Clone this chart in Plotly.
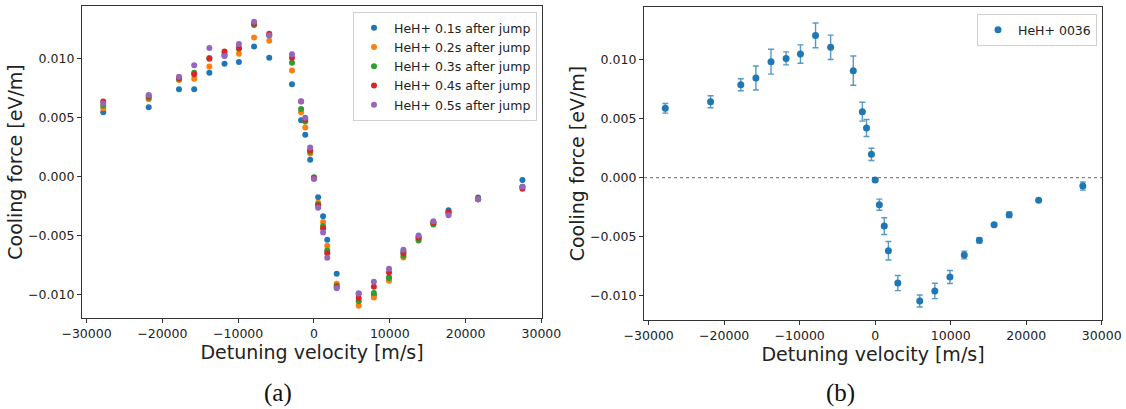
import plotly.graph_objects as go

# Detuning velocities [m/s]
velocity = [-27800, -21800, -17800, -15800, -13800, -11800, -9900, -7900, -5900,
            -2900, -1700, -1150, -500, 0, 550, 1200, 1750, 3000, 5900, 7900,
            9900, 11800, 13800, 15750, 17750, 21650, 27500]

# (a) cooling force [eV/m] at different times after jump
force_01s = [0.00546, 0.00589, 0.00741, 0.00741, 0.00882, 0.00958, 0.00972, 0.01104, 0.01008,
             0.00783, 0.00479, 0.00355, 0.00144, -0.00010, -0.00175, -0.00335, -0.00535, -0.00823,
             -0.00990, -0.01003, -0.00854, -0.00634, -0.00510, -0.00386, -0.00285, -0.00177, -0.00028]
force_02s = [0.00580, 0.00656, 0.00820, 0.00831, 0.00935, 0.01030, 0.01042, 0.01180, 0.01152,
             0.00901, 0.00546, 0.00417, 0.00197, -0.00015, -0.00220, -0.00383, -0.00586, -0.00907,
             -0.01093, -0.01023, -0.00882, -0.00684, -0.00530, -0.00400, -0.00310, -0.00190, -0.00087]
force_03s = [0.00603, 0.00670, 0.00828, 0.00882, 0.01006, 0.01040, 0.01085, 0.01285, 0.01200,
             0.00966, 0.00575, 0.00468, 0.00211, -0.00005, -0.00234, -0.00417, -0.00625, -0.00921,
             -0.01056, -0.00986, -0.00859, -0.00670, -0.00541, -0.00406, -0.00304, -0.00190, -0.00085]
force_04s = [0.00637, 0.00685, 0.00837, 0.00868, 0.01000, 0.01062, 0.01090, 0.01296, 0.01211,
             0.01008, 0.00637, 0.00485, 0.00225, -0.00010, -0.00245, -0.00439, -0.00648, -0.00935,
             -0.01028, -0.00932, -0.00811, -0.00648, -0.00518, -0.00390, -0.00301, -0.00192, -0.00101]
force_05s = [0.00620, 0.00693, 0.00848, 0.00944, 0.01090, 0.01023, 0.01124, 0.01313, 0.01197,
             0.01037, 0.00640, 0.00499, 0.00248, -0.00020, -0.00262, -0.00473, -0.00687, -0.00946,
             -0.00989, -0.00890, -0.00780, -0.00620, -0.00499, -0.00377, -0.00327, -0.00190, -0.00085]

series_names = ["HeH+ 0.1s after jump", "HeH+ 0.2s after jump", "HeH+ 0.3s after jump",
                "HeH+ 0.4s after jump", "HeH+ 0.5s after jump"]
series_values = [force_01s, force_02s, force_03s, force_04s, force_05s]
series_colors = ["#1f77b4", "#ff7f0e", "#2ca02c", "#d62728", "#9467bd"]

# (b) HeH+ 0036 with error bars
force_0036 = [0.00588, 0.00644, 0.00788, 0.00845, 0.00983, 0.01011, 0.01048, 0.01206, 0.01105,
              0.00907, 0.00559, 0.00421, 0.00198, -0.00020, -0.00229, -0.00410, -0.00619, -0.00893,
              -0.01045, -0.00960, -0.00842, -0.00655, -0.00531, -0.00398, -0.00314, -0.00192, -0.00071]
error_0036 = [0.00041, 0.00051, 0.00051, 0.00102, 0.00105, 0.00055, 0.00078, 0.00105, 0.00103,
              0.00124, 0.00080, 0.00072, 0.00052, 0.00008, 0.00047, 0.00071, 0.00078, 0.00064,
              0.00051, 0.00065, 0.00055, 0.00033, 0.00023, 0.00010, 0.00023, 0.00008, 0.00034]

x_ticks = [-30000, -20000, -10000, 0, 10000, 20000, 30000]
y_ticks = [-0.010, -0.005, 0.000, 0.005, 0.010]

W, H = 1126, 409
fig = go.Figure()

for name, vals, col in zip(series_names, series_values, series_colors):
    fig.add_trace(go.Scatter(x=velocity, y=vals, mode="markers", name=name,
                             marker=dict(color=col, size=6, line=dict(width=0)),
                             xaxis="x", yaxis="y", legend="legend"))

fig.add_trace(go.Scatter(x=velocity, y=force_0036, mode="markers", name="HeH+ 0036",
                         marker=dict(color="#1f77b4", size=7, line=dict(width=0)),
                         error_y=dict(type="data", array=error_0036, visible=True,
                                      color="rgba(31,119,180,0.75)", thickness=1.4, width=3),
                         xaxis="x2", yaxis="y2", legend="legend2"))

tick_font = dict(family="DejaVu Sans", size=12.5, color="#222")
title_font = dict(family="DejaVu Sans", size=19, color="#222")
axis_common = dict(showline=True, mirror=True, linecolor="#333", linewidth=1.3,
                   ticks="outside", ticklen=4, tickwidth=1.1, tickcolor="#333",
                   showgrid=False, zeroline=False, tickfont=tick_font, automargin=False)

fig.update_layout(
    template="none",
    width=W, height=H,
    margin=dict(l=0, r=0, t=0, b=0),
    paper_bgcolor="white", plot_bgcolor="white",
    xaxis=dict(domain=[82 / W, 542 / W], anchor="y", range=[-30600, 30080],
               tickvals=x_ticks, tickformat="d",
               title=dict(text="Detuning velocity [m/s]", font=title_font, standoff=1),
               **axis_common),
    yaxis=dict(domain=[1 - 318 / H, 1 - 6 / H], anchor="x", range=[-0.011975, 0.01447],
               tickvals=y_ticks, tickformat=".3f",
               title=dict(text="Cooling force [eV/m]", font=title_font, standoff=0),
               **axis_common),
    xaxis2=dict(domain=[644 / W, 1102 / W], anchor="y2", range=[-30620, 30040],
                tickvals=x_ticks, tickformat="d",
                title=dict(text="Detuning velocity [m/s]", font=title_font, standoff=1),
                **axis_common),
    yaxis2=dict(domain=[1 - 320 / H, 1 - 7 / H], anchor="x2", range=[-0.01206, 0.014466],
                tickvals=y_ticks, tickformat=".3f",
                title=dict(text="Cooling force [eV/m]", font=title_font, standoff=0),
                **axis_common),
    legend=dict(x=537 / W, xanchor="right", y=1 - 12 / H, yanchor="top",
                bgcolor="white", bordercolor="#d0d0d0", borderwidth=1,
                font=dict(family="DejaVu Sans", size=12.5, color="#222"),
                tracegroupgap=0),
    legend2=dict(x=1097 / W, xanchor="right", y=1 - 14 / H, yanchor="top",
                 bgcolor="white", bordercolor="#d0d0d0", borderwidth=1,
                 font=dict(family="DejaVu Sans", size=12.5, color="#222")),
    showlegend=True,
)

# dotted zero line in (b)
fig.add_shape(type="line", xref="x2 domain", yref="y2", x0=0, x1=1, y0=0, y1=0,
              line=dict(color="#444", width=0.8, dash="dot"))

# subfigure captions
for label, xc in [("(a)", 278), ("(b)", 840)]:
    fig.add_annotation(text=label, x=xc / W, y=1 - 393 / H, xref="paper", yref="paper",
                       xanchor="center", yanchor="middle", showarrow=False,
                       font=dict(family="Liberation Serif", size=25, color="#111"))

fig.write_html("out.html")
